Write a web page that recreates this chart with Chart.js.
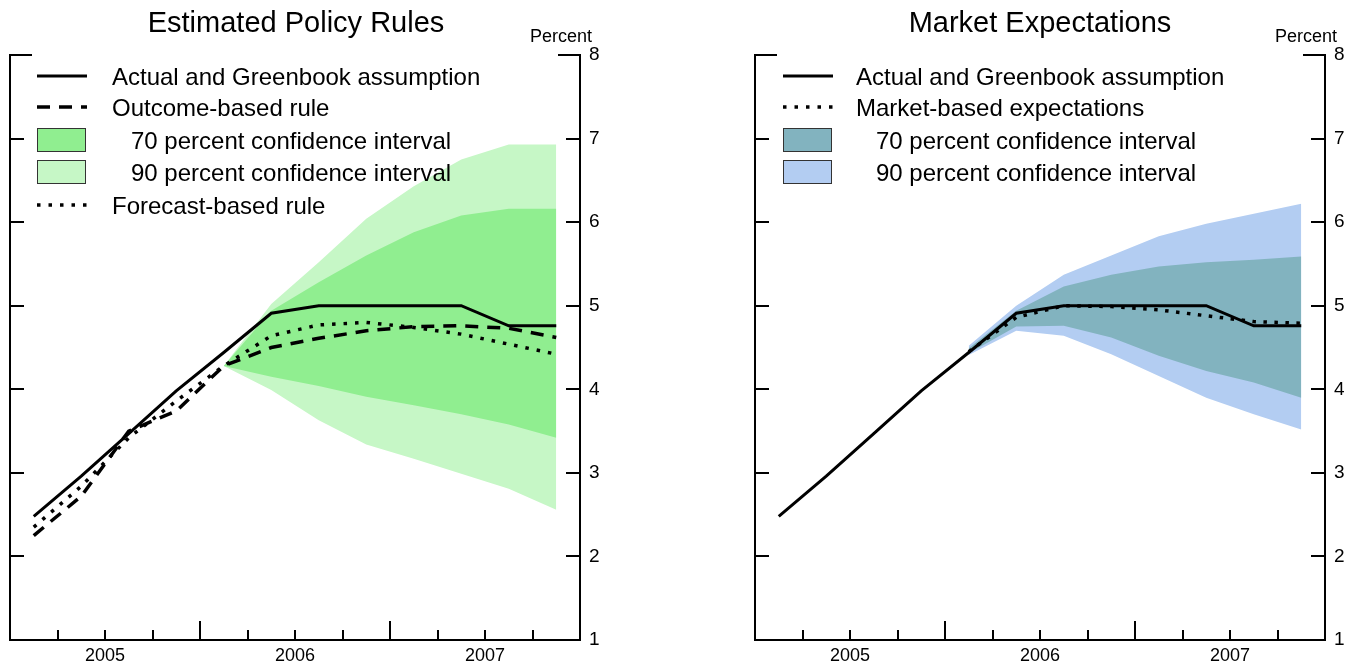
<!DOCTYPE html>
<html>
<head>
<meta charset="utf-8">
<script src="https://cdn.jsdelivr.net/npm/chart.js@4/dist/chart.umd.min.js"></script>
<style>
  html, body { margin: 0; padding: 0; background: #fff; }
  body { width: 1357px; height: 665px; position: relative; overflow: hidden;
         font-family: "Liberation Sans", Arial, Helvetica, sans-serif; color: #000; }
  canvas { position: absolute; top: 0; }
  .txt { position: absolute; white-space: nowrap; line-height: 1; }
  .title { font-size: 29px; top: 8px; transform: translateX(-50%); }
  .unit { font-size: 18px; top: 27px; transform: translateX(-100%); }
  .leg { font-size: 24px; }
  .swatch { position: absolute; width: 49px; height: 24px; border: 1px solid #333; box-sizing: border-box; }
  svg.sample { position: absolute; overflow: visible; }
</style>
</head>
<body>
<canvas id="rules" width="680" height="665" style="left:0"></canvas>
<canvas id="market" width="680" height="665" style="left:677px"></canvas>

<div class="txt title" style="left:296px">Estimated Policy Rules</div>
<div class="txt unit" style="left:592px">Percent</div>
<div class="txt title" style="left:1040px">Market Expectations</div>
<div class="txt unit" style="left:1337px">Percent</div>

<!-- left legend -->
<svg class="sample" style="left:37px;top:76px" width="50" height="2"><line x1="0" y1="0" x2="50" y2="0" stroke="#000" stroke-width="3"/></svg>
<div class="txt leg" style="left:112px;top:65px">Actual and Greenbook assumption</div>
<svg class="sample" style="left:37px;top:107px" width="50" height="2"><line x1="0" y1="0" x2="50" y2="0" stroke="#000" stroke-width="3.5" stroke-dasharray="13 9"/></svg>
<div class="txt leg" style="left:112px;top:96px">Outcome-based rule</div>
<div class="swatch" style="left:37px;top:128px;background:#90EE90"></div>
<div class="txt leg" style="left:131px;top:129px">70 percent confidence interval</div>
<div class="swatch" style="left:37px;top:160px;background:#C6F7C6"></div>
<div class="txt leg" style="left:131px;top:161px">90 percent confidence interval</div>
<svg class="sample" style="left:37px;top:205px" width="50" height="2"><line x1="0" y1="0" x2="50" y2="0" stroke="#000" stroke-width="3.5" stroke-dasharray="3.5 8"/></svg>
<div class="txt leg" style="left:112px;top:194px">Forecast-based rule</div>

<!-- right legend -->
<svg class="sample" style="left:783px;top:76px" width="50" height="2"><line x1="0" y1="0" x2="50" y2="0" stroke="#000" stroke-width="3"/></svg>
<div class="txt leg" style="left:856px;top:65px">Actual and Greenbook assumption</div>
<svg class="sample" style="left:783px;top:107px" width="50" height="2"><line x1="0" y1="0" x2="50" y2="0" stroke="#000" stroke-width="3.5" stroke-dasharray="3.5 8"/></svg>
<div class="txt leg" style="left:856px;top:96px">Market-based expectations</div>
<div class="swatch" style="left:783px;top:128px;background:#82B3BF"></div>
<div class="txt leg" style="left:876px;top:129px">70 percent confidence interval</div>
<div class="swatch" style="left:783px;top:160px;background:#B3CDF2"></div>
<div class="txt leg" style="left:876px;top:161px">90 percent confidence interval</div>

<script>
// Quarterly federal funds rate path, 2005Q1 - 2007Q4 (percent)
const quarters = ['2005Q1','2005Q2','2005Q3','2005Q4','2006Q1','2006Q2','2006Q3','2006Q4','2007Q1','2007Q2','2007Q3','2007Q4'];
const yearLabels = ['2005', '2006', '2007'];

const actualRate   = [2.48, 2.96, 3.47, 3.98, 4.44, 4.91, 5.00, 5.00, 5.00, 5.00, 4.76, 4.76];
const outcomeRule  = [2.25, 2.72, 3.50, 3.74, 4.28, 4.50, 4.61, 4.70, 4.75, 4.76, 4.73, 4.62];
const forecastRule = [2.35, 2.84, 3.42, 3.86, 4.28, 4.64, 4.77, 4.80, 4.74, 4.66, 4.54, 4.42];

const ruleUpper90 = [null, null, null, null, 4.28, 5.02, 5.52, 6.04, 6.43, 6.75, 6.93, 6.93];
const ruleUpper70 = [null, null, null, null, 4.28, 4.94, 5.28, 5.60, 5.88, 6.08, 6.16, 6.16];
const ruleLower70 = [null, null, null, null, 4.28, 4.15, 4.04, 3.91, 3.81, 3.70, 3.58, 3.42];
const ruleLower90 = [null, null, null, null, 4.28, 3.99, 3.63, 3.34, 3.17, 2.99, 2.81, 2.56];

const marketPath = [null, null, null, null, 4.45, 4.86, 5.00, 4.99, 4.95, 4.88, 4.81, 4.79];
const mktUpper90 = [null, null, null, null, 4.52, 5.00, 5.37, 5.60, 5.83, 5.98, 6.10, 6.22];
const mktUpper70 = [null, null, null, null, 4.49, 4.94, 5.23, 5.37, 5.47, 5.52, 5.55, 5.59];
const mktLower70 = [null, null, null, null, 4.43, 4.75, 4.76, 4.62, 4.40, 4.22, 4.08, 3.90];
const mktLower90 = [null, null, null, null, 4.41, 4.70, 4.64, 4.42, 4.16, 3.90, 3.70, 3.52];

Chart.defaults.font.family = '"Liberation Sans", Arial, Helvetica, sans-serif';
Chart.defaults.color = '#000';

// each quarter's value sits at the middle of its quarter
const toPoints = arr => arr.map((v, i) => ({ x: i + 0.5, y: v })).filter(p => p.y !== null);

const lineDs = (data, extra) => Object.assign({
  data: toPoints(data), borderColor: '#000', borderWidth: 3, pointRadius: 0,
  tension: 0, fill: false, order: 0, borderCapStyle: 'butt', borderJoinStyle: 'miter'
}, extra);

const bandDs = (data, color, fillTo, order) => ({
  data: toPoints(data), borderWidth: 0, borderColor: 'rgba(0,0,0,0)', pointRadius: 0,
  tension: 0, backgroundColor: color, fill: fillTo, order: order
});

// inward tick marks, left frame line and top corners
const frameTicks = {
  id: 'frameTicks',
  afterDatasetsDraw(chart) {
    const { ctx, chartArea: { left, right, top, bottom }, scales: { x, y } } = chart;
    ctx.save();
    ctx.strokeStyle = '#000';
    ctx.lineWidth = 2;
    ctx.lineCap = 'butt';
    ctx.beginPath();
    ctx.moveTo(left, top - 1);
    ctx.lineTo(left, bottom + 1);
    y.ticks.forEach(t => {
      const py = Math.round(y.getPixelForValue(t.value));
      const len = t.value === y.max ? 22 : 14;
      ctx.moveTo(left - 1, py); ctx.lineTo(left + len, py);
      ctx.moveTo(right - len, py); ctx.lineTo(right + 1, py);
    });
    x.ticks.forEach(t => {
      if (t.value <= x.min || t.value >= x.max) return;
      const px = Math.round(x.getPixelForValue(t.value));
      const len = t.value % 4 === 0 ? 19 : 10;
      ctx.moveTo(px, bottom); ctx.lineTo(px, bottom - len);
    });
    ctx.stroke();
    ctx.restore();
  }
};

function makeOptions(padLeft) {
  return {
    responsive: false,
    animation: false,
    devicePixelRatio: 1,
    layout: { padding: { left: padLeft, right: 680 - padLeft - 570 - 32, top: 55, bottom: 0 } },
    plugins: { legend: { display: false }, tooltip: { enabled: false } },
    scales: {
      x: {
        type: 'linear', min: 0, max: quarters.length,
        ticks: {
          stepSize: 1, autoSkip: false, maxRotation: 0, padding: 5,
          font: { size: 18 }, color: '#000',
          callback: v => (v % 4 === 2 ? yearLabels[(v - 2) / 4] : '')
        },
        grid: { display: false, drawTicks: false },
        border: { display: true, color: '#000', width: 2 },
        afterFit: s => { s.height = 25; }
      },
      y: {
        position: 'right', min: 1, max: 8,
        ticks: { stepSize: 1, padding: 9, font: { size: 19 }, color: '#000' },
        grid: { display: false, drawTicks: false },
        border: { display: true, color: '#000', width: 2 },
        afterFit: s => { s.width = 32; }
      }
    }
  };
}

new Chart(document.getElementById('rules'), {
  type: 'line',
  data: {
    datasets: [
      lineDs(actualRate),
      lineDs(outcomeRule, { borderWidth: 3.5, borderDash: [13, 9] }),
      lineDs(forecastRule, { borderWidth: 3.5, borderDash: [3.5, 8] }),
      bandDs(ruleUpper70, '#90EE90', 4, 1),
      bandDs(ruleLower70, '#90EE90', false, 1),
      bandDs(ruleUpper90, '#C6F7C6', 6, 2),
      bandDs(ruleLower90, '#C6F7C6', false, 2)
    ]
  },
  options: makeOptions(10),
  plugins: [frameTicks]
});

new Chart(document.getElementById('market'), {
  type: 'line',
  data: {
    datasets: [
      lineDs(actualRate),
      lineDs(marketPath, { borderWidth: 3.5, borderDash: [3.5, 7.5] }),
      bandDs(mktUpper70, '#82B3BF', 3, 1),
      bandDs(mktLower70, '#82B3BF', false, 1),
      bandDs(mktUpper90, '#B3CDF2', 5, 2),
      bandDs(mktLower90, '#B3CDF2', false, 2)
    ]
  },
  options: makeOptions(78),
  plugins: [frameTicks]
});
</script>
</body>
</html>
